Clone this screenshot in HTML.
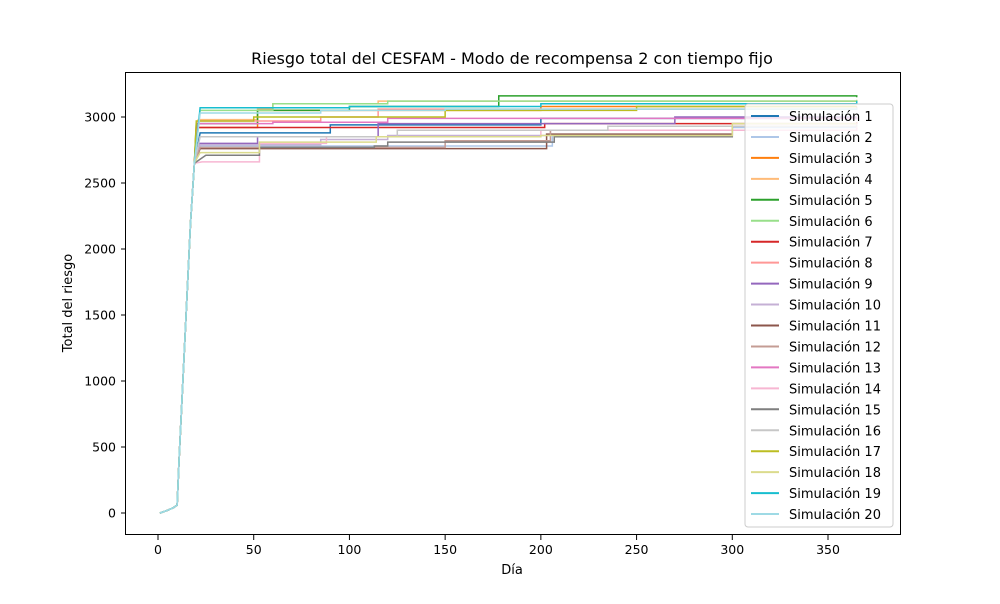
<!DOCTYPE html>
<html><head><meta charset="utf-8"><style>
body{margin:0;background:#fff;font-family:"DejaVu Sans",sans-serif}
</style></head><body>
<svg id="c" width="1000" height="600" xmlns="http://www.w3.org/2000/svg" font-family="DejaVu Sans, sans-serif"></svg>
<script>
const names=[];for(let i=1;i<=20;i++)names.push('Simulación '+i);
const colors=['#1f77b4','#aec7e8','#ff7f0e','#ffbb78','#2ca02c','#98df8a','#d62728','#ff9896','#9467bd','#c5b0d5','#8c564b','#c49c94','#e377c2','#f7b6d2','#7f7f7f','#c7c7c7','#bcbd22','#dbdb8d','#17becf','#9edae5'];
const ramp=[[1,0],[5,20],[8,40],[10,60],[11,400],[13,1000],[15,1600],[17,2200],[19,2650]];
const s1=[[22,2880],[90,2940],[200,2990],[365,3000]];
const s2=[[22,2780],[205,2780],[206,2860],[300,2920],[365,2930]];
const s3=[[21,2920],[52,3050],[200,3080],[365,3080]];
const s4=[[21,2980],[52,3060],[60,3100],[115,3120],[365,3130]];
const s5=[[20,2950],[52,3050],[100,3080],[178,3160],[365,3150]];
const s6=[[22,3050],[60,3100],[120,3120],[365,3130]];
const s7=[[20,2920],[202,2950],[365,2960]];
const s8=[[21,2970],[85,3000],[115,3060],[365,3080]];
const s9=[[22,2800],[52,2850],[115,2950],[270,3000],[365,3000]];
const s10=[[22,2790],[85,2830],[120,2860],[205,2900],[365,2950]];
const s11=[[22,2760],[203,2870],[300,2930],[365,2930]];
const s12=[[22,2770],[150,2820],[205,2900],[365,2950]];
const s13=[[21,2950],[60,2960],[120,2990],[365,3000]];
const s14=[[23,2660],[53,2800],[88,2850],[200,2900],[365,2950]];
const s15=[[25,2710],[53,2770],[113,2780],[120,2810],[207,2850],[300,2930],[365,2930]];
const s16=[[22,2850],[125,2900],[235,2930],[365,2940]];
const s17=[[20,2970],[50,3000],[150,3050],[250,3080],[365,3080]];
const s18=[[22,2730],[53,2810],[114,2850],[200,2860],[300,2950],[365,2950]];
const s19=[[22,3070],[100,3080],[200,3100],[365,3120]];
const s20=[[22,3030],[85,3050],[150,3060],[365,3070]];
const series=[s1,s2,s3,s4,s5,s6,s7,s8,s9,s10,s11,s12,s13,s14,s15,s16,s17,s18,s19,s20];
const xTicks=[0,50,100,150,200,250,300,350];
const yTicks=[0,500,1000,1500,2000,2500,3000];
const X=d=>158+(d)*1.9143;const Y=v=>513-v*0.132;
const svg=document.getElementById('c');const NS='http://www.w3.org/2000/svg';
function el(t,a,p){const e=document.createElementNS(NS,t);for(const k in a)e.setAttribute(k,a[k]);(p||svg).appendChild(e);return e;}
xTicks.forEach(t=>{const g=el('g',{});


el('line',{x1:X(t),x2:X(t),y1:535,y2:540,stroke:'#000'},g);
const tx=el('text',{x:X(t),y:554,'text-anchor':'middle','font-size':12.5},g);tx.textContent=t;});
yTicks.forEach(t=>{const g=el('g',{});


el('line',{x1:121,x2:126,y1:Y(t),y2:Y(t),stroke:'#000'},g);
const tx=el('text',{x:116,y:Y(t)+4.5,'text-anchor':'end','font-size':12.5},g);tx.textContent=t;});
series.forEach((s,i)=>{
  let d='M'+X(ramp[0][0])+','+Y(ramp[0][1]);
  for(let j=1;j<ramp.length;j++)d+=' L'+X(ramp[j][0])+','+Y(ramp[j][1]);
  d+=' L'+X(s[0][0])+','+Y(s[0][1]);
  for(let j=1;j<s.length;j++)d+=' H'+X(s[j][0])+' V'+Y(s[j][1]);
  const p=el('path',{d:d,fill:'none',stroke:colors[i],'stroke-width':1.5});
  
  
});
const axes=el('rect',{x:125.5,y:72.5,width:775,height:462,fill:'none',stroke:'#000','stroke-width':1});


const t=el('text',{x:512,y:64,'text-anchor':'middle','font-size':16});t.textContent='Riesgo total del CESFAM - Modo de recompensa 2 con tiempo fijo';

const xl=el('text',{x:512,y:574,'text-anchor':'middle','font-size':13});xl.textContent='Día';

const yl=el('text',{x:72,y:303,'text-anchor':'middle','font-size':13,transform:'rotate(-90 72 303)'});yl.textContent='Total del riesgo';

const lg=el('g',{});
el('rect',{x:745,y:104,width:148,height:423,rx:3,fill:'#fff','fill-opacity':0.8,stroke:'#ccc'},lg);
names.forEach((n,i)=>{const g=el('g',{},lg);


const y=116+i*20.95;
el('line',{x1:751,x2:779,y1:y,y2:y,stroke:colors[i],'stroke-width':2},g);
const tx=el('text',{x:789,y:y+5,'font-size':13},g);tx.textContent=n;});
</script>
</body></html>
